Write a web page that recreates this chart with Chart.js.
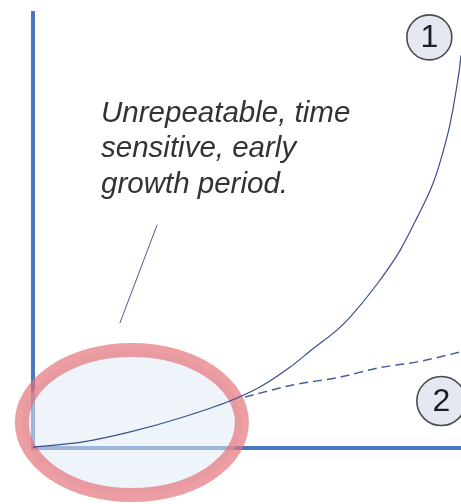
<!DOCTYPE html>
<html>
<head>
<meta charset="utf-8">
<script src="https://cdn.jsdelivr.net/npm/chart.js@4"></script>
<style>
  html, body { margin: 0; padding: 0; background: #ffffff; }
  #wrap { width: 461px; height: 504px; }
</style>
</head>
<body>
<div id="wrap"><canvas id="c" width="461" height="504"></canvas></div>
<script>
// ---- Data (axis units 0..100) ----
const growthX = [0, 11.7, 22.7, 34.4, 46.0, 53.0, 60.1, 65.4, 71.0, 74.1, 80.4, 85.8, 89.7, 93.5, 95.6, 97.4, 98.8, 100, 100.4];
const growthY = [0.2, 1.4, 3.7, 6.9, 10.8, 14.0, 18.6, 22.8, 27.1, 30.1, 37.7, 45.5, 52.9, 60.9, 67.4, 74.3, 81.8, 90.3, 96];
const slowX = [49.5, 60.7, 71.7, 80.6, 89.7, 99.8, 100.5];
const slowY = [11.7, 14.5, 16.3, 18.4, 19.8, 22.1, 22.3];
const noteLines = ["Unrepeatable, time", "sensitive, early", "growth period."];
const markerLabels = ["1", "2"];

const toPoints = (xs, ys) => xs.map((x, i) => ({ x: x, y: ys[i] }));

const annotationPlugin = {
  id: 'sketchNotes',
  beforeDatasetsDraw(chart) {
    const { ctx, scales: { x, y } } = chart;
    // highlighted region (ellipse)
    const cx = x.getPixelForValue(23.1), cy = y.getPixelForValue(5.86);
    const rx = x.getPixelForValue(23.1 + 25.7) - cx;
    const ry = cy - y.getPixelForValue(5.86 + 16.67);
    ctx.save();
    ctx.beginPath();
    ctx.ellipse(cx, cy, rx, ry, 0, 0, Math.PI * 2);
    ctx.fillStyle = 'rgba(226,233,246,0.55)';
    ctx.fill();
    ctx.lineWidth = 14;
    ctx.strokeStyle = 'rgba(228,112,118,0.68)';
    ctx.stroke();
    ctx.restore();
  },
  afterDatasetsDraw(chart) {
    const { ctx, scales: { x, y } } = chart;
    ctx.save();
    // pointer line
    ctx.beginPath();
    ctx.moveTo(x.getPixelForValue(29.0), y.getPixelForValue(51.3));
    ctx.lineTo(x.getPixelForValue(20.3), y.getPixelForValue(28.7));
    ctx.lineWidth = 1;
    ctx.strokeStyle = '#4a5a90';
    ctx.stroke();
    // note text
    ctx.font = 'italic 29.5px "Liberation Sans", Arial, sans-serif';
    ctx.fillStyle = '#333333';
    ctx.textAlign = 'left';
    ctx.textBaseline = 'alphabetic';
    const tx = x.getPixelForValue(15.9);
    const ty = y.getPixelForValue(74.9);
    noteLines.forEach((line, i) => ctx.fillText(line, tx, ty + i * 35.3));
    // numbered markers
    const markers = [{ x: 92.6, y: 94.4, r: 22.5 }, { x: 95.4, y: 10.8, r: 24.5 }];
    markers.forEach((m, i) => {
      const px = x.getPixelForValue(m.x), py = y.getPixelForValue(m.y);
      ctx.beginPath();
      ctx.arc(px, py, m.r, 0, Math.PI * 2);
      ctx.fillStyle = '#e4e8f1';
      ctx.fill();
      ctx.lineWidth = 1.6;
      ctx.strokeStyle = '#4a4a4a';
      ctx.stroke();
      ctx.font = '32px "Liberation Sans", Arial, sans-serif';
      ctx.fillStyle = '#1e1e1e';
      ctx.textAlign = 'center';
      ctx.textBaseline = 'middle';
      ctx.fillText(markerLabels[i], px, py + 1);
    });
    ctx.restore();
  }
};

new Chart(document.getElementById('c'), {
  type: 'scatter',
  data: {
    datasets: [
      {
        data: toPoints(growthX, growthY),
        showLine: true,
        borderColor: '#3c4e8c',
        borderWidth: 1.2,
        pointRadius: 0,
        cubicInterpolationMode: 'monotone',
        clip: false
      },
      {
        data: toPoints(slowX, slowY),
        showLine: true,
        borderColor: '#4a5d98',
        borderWidth: 1.5,
        borderDash: [9, 5],
        pointRadius: 0,
        cubicInterpolationMode: 'monotone',
        clip: false
      }
    ]
  },
  options: {
    responsive: false,
    animation: false,
    layout: { padding: { left: 33, top: 13, right: 0, bottom: 56 } },
    plugins: { legend: { display: false }, tooltip: { enabled: false } },
    scales: {
      x: {
        type: 'linear', min: 0, max: 100,
        ticks: { display: false },
        grid: { display: false, drawTicks: false },
        border: { display: true, color: '#4a78c0', width: 4 }
      },
      y: {
        type: 'linear', min: 0, max: 100,
        ticks: { display: false },
        grid: { display: false, drawTicks: false },
        border: { display: true, color: '#4a78c0', width: 4 }
      }
    }
  },
  plugins: [annotationPlugin]
});
</script>
</body>
</html>
